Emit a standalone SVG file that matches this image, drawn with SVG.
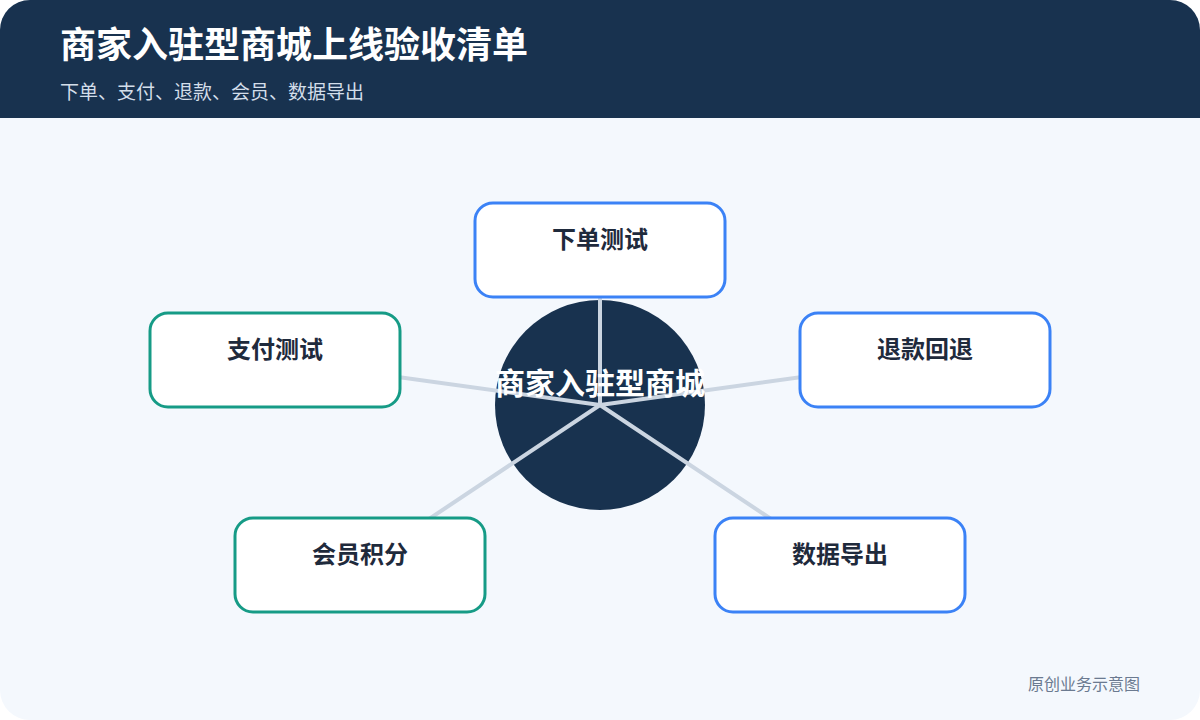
<svg xmlns="http://www.w3.org/2000/svg" width="1200" height="720" viewBox="0 0 1200 720">
<defs>
<style>
.cjk{font-family:"Noto Sans CJK SC","Noto Sans",sans-serif;}
.node rect{fill:#ffffff;stroke-width:3;}
.blue rect{stroke:#3b82f6;}
.green rect{stroke:#169b86;}
.node text{font-size:24px;font-weight:700;fill:#1f2a3c;text-anchor:middle;}
.conn line{stroke:#cbd5e1;stroke-width:4;stroke-linecap:round;}
</style>
<clipPath id="page"><rect x="0" y="0" width="1200" height="720" rx="30"/></clipPath>
</defs>
<g clip-path="url(#page)">
<rect x="0" y="0" width="1200" height="720" fill="#f4f8fd"/>
<rect x="0" y="0" width="1200" height="118" fill="#18324f"/>
</g>
<g id="header" class="cjk">
<text x="60" y="58" font-size="36" font-weight="700" fill="#ffffff">商家入驻型商城上线验收清单</text>
<text x="60" y="99" font-size="19" fill="#d3deea">下单、支付、退款、会员、数据导出</text>
</g>
<g id="hub-circle"><circle cx="600" cy="405" r="105" fill="#18324f"/></g>
<g id="connectors" class="conn">
<line x1="600" y1="405" x2="600" y2="250"/>
<line x1="600" y1="405" x2="275" y2="360"/>
<line x1="600" y1="405" x2="925" y2="360"/>
<line x1="600" y1="405" x2="360" y2="565"/>
<line x1="600" y1="405" x2="840" y2="565"/>
</g>
<g id="hub-label" class="cjk"><text x="600" y="394" font-size="30" font-weight="700" fill="#ffffff" text-anchor="middle">商家入驻型商城</text></g>
<g id="node-order" class="node blue cjk"><rect x="475" y="203" width="250" height="94" rx="18"/><text x="600" y="248">下单测试</text></g>
<g id="node-pay" class="node green cjk"><rect x="150" y="313" width="250" height="94" rx="18"/><text x="275" y="358">支付测试</text></g>
<g id="node-refund" class="node blue cjk"><rect x="800" y="313" width="250" height="94" rx="18"/><text x="925" y="358">退款回退</text></g>
<g id="node-member" class="node green cjk"><rect x="235" y="518" width="250" height="94" rx="18"/><text x="360" y="563">会员积分</text></g>
<g id="node-export" class="node blue cjk"><rect x="715" y="518" width="250" height="94" rx="18"/><text x="840" y="563">数据导出</text></g>
<g id="footer" class="cjk"><text x="1140" y="690" font-size="16" fill="#6b7a90" text-anchor="end">原创业务示意图</text></g>
</svg>
